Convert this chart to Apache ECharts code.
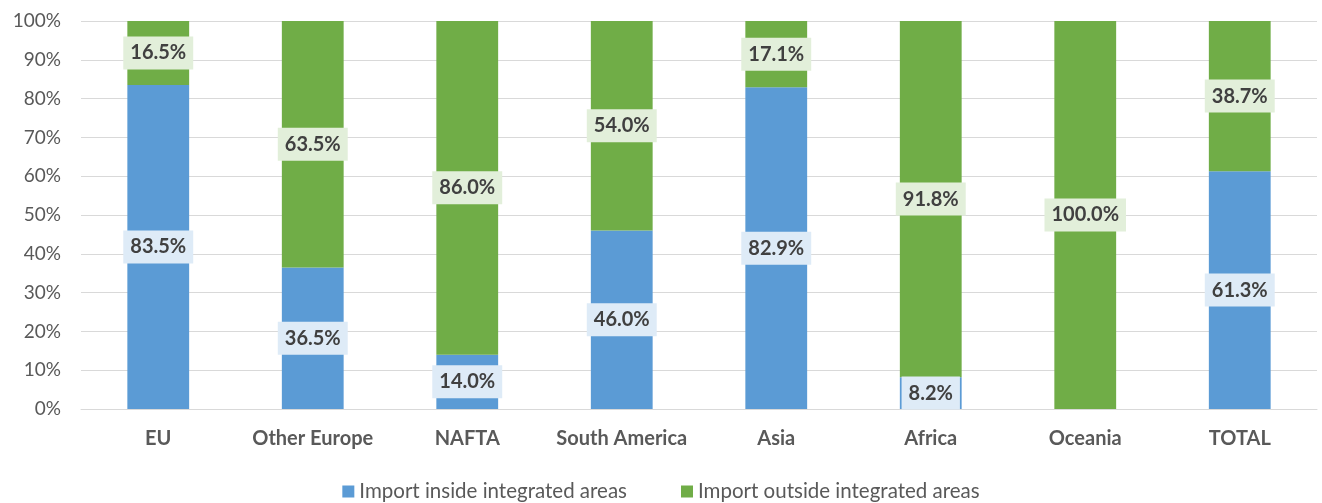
<!DOCTYPE html>
<html><head><meta charset="utf-8">
<script src="https://cdn.jsdelivr.net/npm/echarts@6/dist/echarts.min.js"></script>
<style>html,body{margin:0;padding:0;background:#fff}#c{width:1322px;height:503px}</style>
</head><body><div id="c"></div>
<script>
const categories = ['EU','Other Europe','NAFTA','South America','Asia','Africa','Oceania','TOTAL'];
const inside = [83.5, 36.5, 14.0, 46.0, 82.9, 8.2, 0.0, 61.3];
const outside = [16.5, 63.5, 86.0, 54.0, 17.1, 91.8, 100.0, 38.7];
const seriesNames = ['Import inside integrated areas','Import outside integrated areas'];
const FONT = 'Lato, "Open Sans", sans-serif';
const chart = echarts.init(document.getElementById('c'));
function lbl(bg){
  return {show:true, position:'inside', fontFamily:FONT, fontWeight:'bold', fontSize:20, color:'#404040',
    backgroundColor:bg, padding:[7,7,6,7],
    formatter:p=> p.value.toFixed(1)+'%'};
}
function items(arr){
  return arr.map(v=> v>0 ? v : {value:v,label:{show:false}});
}
chart.setOption({
  animation:false,
  grid:{left:81,right:5,top:21,bottom:94,containLabel:false},
  legend:{top:476,left:'center',itemWidth:12,itemHeight:12,itemGap:54,icon:'rect',
    textStyle:{fontFamily:FONT,fontSize:20.5,color:'#595959'},data:seriesNames},
  xAxis:{type:'category',data:categories,axisTick:{show:false},
    axisLine:{lineStyle:{color:'#d9d9d9',width:1}},
    axisLabel:{interval:0,fontFamily:FONT,fontWeight:'bold',fontSize:20,color:'#595959',margin:20}},
  yAxis:{type:'value',min:0,max:100,interval:10,
    axisLabel:{formatter:'{value}%',fontFamily:FONT,fontSize:19,color:'#595959',margin:20},
    splitLine:{lineStyle:{color:'#d9d9d9',width:1}},axisLine:{show:false},axisTick:{show:false}},
  series:[
    {name:seriesNames[0],type:'bar',stack:'a',data:items(inside),barWidth:'40%',
      itemStyle:{color:'#5b9bd5'},label:lbl('#deebf7')},
    {name:seriesNames[1],type:'bar',stack:'a',data:items(outside),barWidth:'40%',
      itemStyle:{color:'#70ad47'},label:lbl('#e2efda')}
  ]
});
</script></body></html>
